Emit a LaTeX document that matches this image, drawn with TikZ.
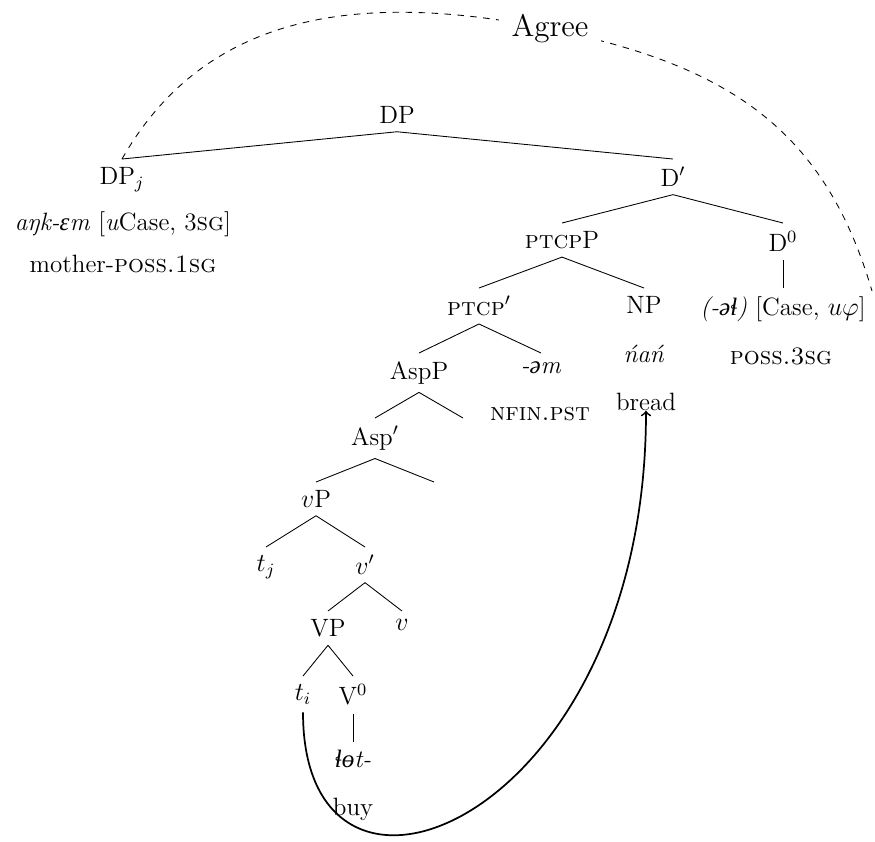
\documentclass[tikz,border=0pt]{standalone}
\usepackage{fontspec}
\newfontfamily\ipafont{Liberation Serif}
\newcommand{\ipa}[1]{{\ipafont #1}}
\begin{document}
\begin{tikzpicture}[x=0.463pt,y=-0.463pt,
  every node/.style={font=\fontsize{11.6}{14}\selectfont},
  tn/.style={anchor=north, inner sep=3.65pt},
  tx/.style={anchor=base, inner sep=0pt},
  branch/.style={line width=0.4pt},
  agreeline/.style={dashed, line width=0.4pt},
  movearrow/.style={thick, ->}]
\useasboundingbox (0,0) rectangle (875,841);

% tree nodes
\node[tn] (dp) at (397,98) {DP};
\node[tn] (dpj) at (122,159) {DP$_j$};
\node[tx] (dpjf) at (123,230) {\textit{aŋk-\ipa{ɛ}m} [\textit{u}Case, 3\textsc{sg}]};
\node[tx] (dpjg) at (123,272) {mother-\textsc{poss.1sg}};
\node[tn] (dbar) at (673,159) {D$'$};
\node[tn] (ptcpp) at (562,223) {\textsc{ptcp}P};
\node[tn] (d0) at (783,223) {D$^0$};
\node[tn] (feat) at (783,288) {\textit{(-\ipa{əɬ})} [Case, $u\varphi$]};
\node[tx] (featg) at (781,364) {\textsc{poss.3sg}};
\node[tn] (ptcpbar) at (479,288) {\textsc{ptcp}$'$};
\node[tn] (np) at (644,288) {NP};
\node[tx] (nan) at (644,362) {\textit{ńań}};
\node[tx] (bread) at (646,410) {bread};
\node[tn] (aspp) at (419,353) {AspP};
\node[tn] (em) at (541,353) {\textit{-\ipa{ə}m}};
\node[tx] (emg) at (540,420) {\textsc{nfin.pst}};
\node[tn] (aspbar) at (375,418) {Asp$'$};
\coordinate (asppR) at (463,418);
\node[tn] (vp) at (316,482) {$v$P};
\coordinate (aspbarR) at (434,482);
\node[tn] (tj) at (266,547) {$t_j$};
\node[tn] (vbar) at (365,547) {$v'$};
\node[tn] (VP) at (328,611) {VP};
\node[tn] (v) at (402,611) {$v$};
\node[tn] (ti) at (303,676) {$t_i$};
\node[tn] (V0) at (353,676) {V$^0$};
\node[tn] (lot) at (353,742) {\textit{\ipa{ɬɵ}t-}};
\node[tx] (buy) at (353,815) {buy};

% branches
\draw[branch] (dp.south) -- (dpj.north);
\draw[branch] (dp.south) -- (dbar.north);
\draw[branch] (dbar.south) -- (ptcpp.north);
\draw[branch] (dbar.south) -- (d0.north);
\draw[branch] (d0.south) -- (feat.north);
\draw[branch] (ptcpp.south) -- (ptcpbar.north);
\draw[branch] (ptcpp.south) -- (np.north);
\draw[branch] (ptcpbar.south) -- (aspp.north);
\draw[branch] (ptcpbar.south) -- (em.north);
\draw[branch] (aspp.south) -- (aspbar.north);
\draw[branch] (aspp.south) -- (asppR);
\draw[branch] (aspbar.south) -- (vp.north);
\draw[branch] (aspbar.south) -- (aspbarR);
\draw[branch] (vp.south) -- (tj.north);
\draw[branch] (vp.south) -- (vbar.north);
\draw[branch] (vbar.south) -- (VP.north);
\draw[branch] (vbar.south) -- (v.north);
\draw[branch] (VP.south) -- (ti.north);
\draw[branch] (VP.south) -- (V0.north);
\draw[branch] (V0.south) -- (lot.north);

% Agree
\coordinate (agreept) at (550,29);
\coordinate (agreeend) at (872,291);
\draw[agreeline] (dpj.north) .. controls (197,27.5) and (334,-15) .. (agreept)
  .. controls (726,65) and (824,127) .. (agreeend);
\node[fill=white, inner sep=6pt, font=\fontsize{14.4}{18}\selectfont] (agree) at (agreept) {Agree};

% movement
\draw[movearrow] (ti.south) .. controls (303,960) and (646,820) .. (bread.south);
\end{tikzpicture}
\end{document}
